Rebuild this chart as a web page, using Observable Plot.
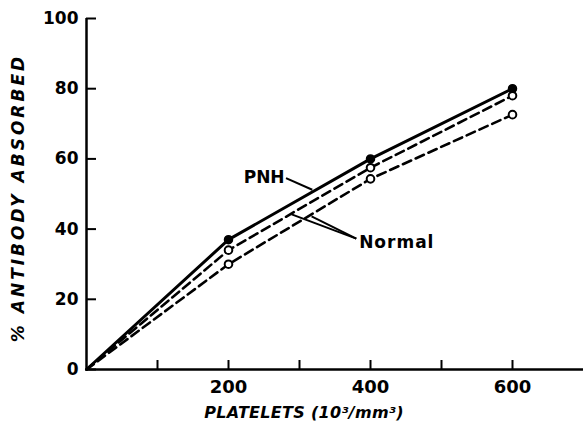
<!DOCTYPE html>
<html>
<head>
<meta charset="utf-8">
<script src="https://cdn.jsdelivr.net/npm/d3@7"></script>
<script src="https://cdn.jsdelivr.net/npm/@observablehq/plot@0.6"></script>
<style>
  html, body { margin: 0; padding: 0; background: #fff; }
  #chart svg { display: block; }
</style>
</head>
<body>
<div id="chart"></div>
<script>
// Data
const platelets = [0, 200, 400, 600];
const pnh       = [0, 37, 60, 80];
const normalA   = [0, 34, 57.5, 78];
const normalB   = [0, 30, 54.3, 72.6];

const xTicksMinor = [100, 200, 300, 400, 500, 600];
const xTickLabels = [200, 400, 600];
const yTicks = [0, 20, 40, 60, 80, 100];

const yTitle = "% ANTIBODY ABSORBED";
const xTitle = "PLATELETS (10³/mm³)";

// label annotations (data coordinates)
const labels = [
  {text: "PNH", x: 279, y: 54.7, anchor: "end"},
  {text: "Normal", x: 384, y: 36.2, anchor: "start"}
];
const leaders = [
  {x1: 281, y1: 54.5, x2: 318, y2: 51.2},
  {x1: 380, y1: 37.3, x2: 289, y2: 44.2},
  {x1: 380, y1: 37.3, x2: 317, y2: 43.6}
];

const rows = (ys, series) => platelets.map((p, i) => ({x: p, y: ys[i], series}));
const pnhRows = rows(pnh, "PNH");
const nARows = rows(normalA, "NormalA");
const nBRows = rows(normalB, "NormalB");
const markers = r => r.filter(d => d.x > 0);

const W = 583, H = 434;
const mT = 18, mB = 65, mL = 86, mR = 0;
const frameW = W - mL - mR, frameH = H - mT - mB;

const chart = Plot.plot({
  width: W,
  height: H,
  marginTop: mT,
  marginBottom: mB,
  marginLeft: mL,
  marginRight: mR,
  style: {fontFamily: "DejaVu Sans", background: "#fff", color: "#000", overflow: "visible"},
  x: {domain: [0, 700]},
  y: {domain: [0, 100]},
  marks: [
    // inward ticks
    Plot.tickX(xTicksMinor, {x: d => d, stroke: "#000", strokeWidth: 2, insetTop: frameH - 9}),
    Plot.tickY(yTicks, {y: d => d, stroke: "#000", strokeWidth: 2, insetRight: frameW - 10}),
    // tick labels
    Plot.axisX({ticks: xTickLabels, tickSize: 0, tickPadding: 11, fontSize: 18, fontWeight: "bold", label: null, tickFormat: d => d}),
    Plot.axisY({ticks: yTicks, tickSize: 0, tickPadding: 8, fontSize: 17, fontWeight: "bold", label: null, tickFormat: d => d}),
    // axis lines
    Plot.ruleY([0], {stroke: "#000", strokeWidth: 2.5}),
    Plot.ruleX([0], {stroke: "#000", strokeWidth: 2.5}),
    // series lines
    Plot.line(pnhRows, {x: "x", y: "y", stroke: "#000", strokeWidth: 3}),
    Plot.line(nARows, {x: "x", y: "y", stroke: "#000", strokeWidth: 2.6, strokeDasharray: "9,5"}),
    Plot.line(nBRows, {x: "x", y: "y", stroke: "#000", strokeWidth: 2.6, strokeDasharray: "9,5"}),
    // markers
    Plot.dot(markers(pnhRows), {x: "x", y: "y", r: 4, fill: "#000", stroke: "#000"}),
    Plot.dot(markers(nARows), {x: "x", y: "y", r: 3.8, fill: "#fff", stroke: "#000", strokeWidth: 2}),
    Plot.dot(markers(nBRows), {x: "x", y: "y", r: 3.8, fill: "#fff", stroke: "#000", strokeWidth: 2}),
    // leader lines
    Plot.link(leaders, {x1: "x1", y1: "y1", x2: "x2", y2: "y2", stroke: "#000", strokeWidth: 2}),
    // annotation labels
    Plot.text(labels.filter(d => d.anchor === "end"), {x: "x", y: "y", text: "text", textAnchor: "end", fontSize: 17, fontWeight: "bold", fill: "#000"}),
    Plot.text(labels.filter(d => d.anchor === "start"), {x: "x", y: "y", text: "text", textAnchor: "start", fontSize: 17, fontWeight: "bold", fill: "#000"}),
    // axis titles
    Plot.text([yTitle], {frameAnchor: "left", textAnchor: "middle", dx: -68, dy: 4, rotate: -90, fontSize: 17, fontWeight: "bold", fontStyle: "italic", fill: "#000"}),
    Plot.text([xTitle], {frameAnchor: "bottom", textAnchor: "middle", dx: -31, dy: 48, fontSize: 16, fontWeight: "bold", fontStyle: "italic", fill: "#000"})
  ]
});

// letter spacing for titles and labels
const sel = t => d3.select(chart).selectAll("text").filter(function() { return this.textContent === t; });
sel(yTitle).style("letter-spacing", "3px");
sel(xTitle).style("letter-spacing", "0.3px");
sel("Normal").style("letter-spacing", "1px");

document.getElementById("chart").appendChild(chart);
</script>
</body>
</html>
